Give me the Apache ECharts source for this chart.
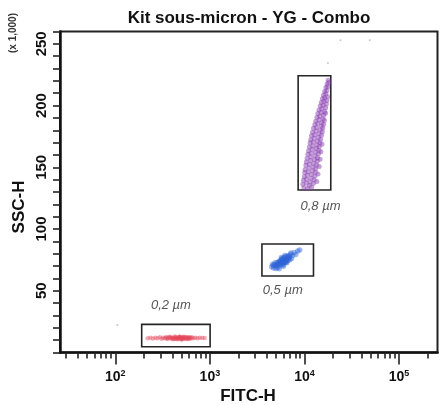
<!DOCTYPE html>
<html>
<head>
<meta charset="utf-8">
<script src="https://cdn.jsdelivr.net/npm/echarts@6/dist/echarts.min.js"></script>
<style>html,body{margin:0;padding:0;background:#fff}#c{width:440px;height:405px}</style>
</head>
<body>
<div id="c"></div>
<script>
// ---- data ----
const title = 'Kit sous-micron - YG - Combo';
const xName = 'FITC-H';
const yName = 'SSC-H';
const yUnit = '(x 1,000)';
const xRange = [26, 255000];
const yRange = [0, 260];
const xMajorTicks = [100, 1000, 10000, 100000];
const xMinorTicks = [30,40,50,60,70,80,90,200,300,400,500,600,700,800,900,2000,3000,4000,5000,6000,7000,8000,9000,20000,30000,40000,50000,60000,70000,80000,90000,200000];
const yTickStep = 10;
const yLabelStep = 50;
const gateLabels = ['0,2 µm', '0,5 µm', '0,8 µm'];
const gate02 = [[190, 4.7], [1005, 22.8]];
const gate05 = [[3550, 62.0], [12450, 87.9]];
const gate08 = [[8570, 131.6], [18970, 224.2]];

const pts02 = [
[220,11.6],[235,11.9],[250,11.3],[265,12.0],[280,11.6],[295,12.3],[310,11.1],[320,12.0],[335,11.5],[345,12.6],
[355,10.9],[365,11.9],[375,12.8],[385,11.3],[395,12.1],[405,10.7],[415,11.7],[425,12.9],[435,11.2],[445,12.2],
[455,10.8],[465,11.8],[475,12.6],[485,11.4],[495,12.0],[505,10.7],[515,11.9],[525,12.8],[540,11.3],[555,12.1],
[570,11.6],[585,12.5],[600,11.0],[620,11.9],[645,12.3],[670,11.5],[700,12.0],[740,11.6],[780,11.9],[830,11.7],[880,11.8],
[400,11.5],[430,12.4],[460,11.1],[490,11.6],[520,11.2],[550,12.6],[580,11.4],[610,12.2],[470,12.3],[440,11.6],
[510,12.4],[530,11.8],[560,10.9],[420,11.0],[380,12.2],[350,11.6],[590,11.7],[630,11.4],[480,12.9],[500,10.5]
];
const pts05 = [
[4500,69.5],[4700,68.5],[4800,71.0],[5000,70.0],[5100,72.5],[5200,68.8],[5300,71.5],[5400,74.0],[5500,70.2],[5600,72.8],
[5700,75.5],[5800,71.5],[5900,73.8],[6000,76.2],[6100,72.4],[6200,74.8],[6300,77.5],[6400,73.2],[6500,75.8],[6600,78.4],
[6700,74.6],[6900,77.0],[7100,79.5],[7300,76.2],[7500,78.6],[7800,81.0],[8100,79.4],[8500,82.2],[8900,83.0],[5500,73.5],
[5800,74.8],[6100,75.2],[6300,73.6],[5900,70.8],[6500,72.6],[5200,71.2],[4900,72.6],[6800,76.4],[7000,75.2],[5700,77.0],
[6200,78.6],[4600,71.4],[5400,67.8],[6000,69.8],[7200,80.6],[5600,74.2],[6000,73.0],[6400,75.0],[5300,73.0],[6700,77.8],
[5100,70.6],[5500,71.8],[5900,72.2],[6300,74.2],[6100,77.0],[5800,76.0],[6600,76.2],[7000,78.2],[5000,68.0],[4700,70.4]
];
const pts08 = [
[9850,133.4],[10750,132.8],[11900,133.9],
[9600,136.2],[10450,137.1],[11250,135.3],[12400,136.8],
[9750,139.6],[10550,140.3],[11450,138.2],[12650,139.9],[13500,138.6],
[9950,142.4],[10700,143.5],[11750,141.2],[12900,142.9],
[10050,145.7],[10950,146.3],[11850,144.1],[13050,145.9],[13900,144.6],
[10150,148.3],[11150,149.4],[12150,147.2],[13150,148.8],
[10350,151.6],[11250,152.5],[12350,150.2],[13450,151.9],[14300,150.7],
[10450,154.4],[11550,155.6],[12450,153.1],[13650,154.9],
[10650,157.3],[11650,158.4],[12750,156.2],[13750,157.8],[14600,156.5],
[10850,160.6],[11750,161.3],[12950,159.1],[14050,160.9],
[11050,163.4],[12050,164.6],[13050,162.2],[14150,163.8],[14900,162.7],
[11250,166.5],[12250,167.3],[13350,165.2],[14350,166.9],
[11450,169.6],[12350,170.4],[13550,168.1],[14550,169.8],[15300,168.6],
[11650,172.4],[12650,173.5],[13650,171.2],[14850,172.7],
[11850,175.6],[12850,176.3],[14050,174.2],[15150,175.9],
[12150,178.3],[13250,179.5],[14250,177.1],[15450,178.8],
[12450,181.6],[13450,182.2],[14650,180.3],[15650,181.9],
[12850,184.4],[13850,185.5],[15050,183.2],[15950,184.8],
[13150,187.3],[14250,188.6],[15250,186.1],[16250,187.9],
[13550,190.5],[14550,191.4],[15750,189.2],
[13850,193.6],[14950,194.3],[15950,192.1],[16700,193.8],
[14250,196.4],[15250,197.5],[16350,195.2],
[14650,199.6],[15750,200.3],[16750,198.2],
[15050,202.4],[16050,203.5],[17050,201.2],
[15450,205.6],[16350,206.3],[17250,204.1],
[15850,208.4],[16850,209.6],[17550,207.2],
[16350,211.5],[17250,212.3],
[16850,214.6],[17650,215.2],
[17350,217.4],[18050,218.6],
[17800,220.5]
];
const ptsStray = [[105,22.3],[17700,234.5],[24000,253],[49000,253]];

// ---- chart ----
const FONT = "'Liberation Sans Narrow', 'Liberation Sans', Arial, sans-serif";
const chart = echarts.init(document.getElementById('c'), null, {renderer: 'canvas'});
const grid = {left: 60, right: 2.5, top: 31.5, bottom: 52.5};

function gate(box, label, pos, offset) {
  return {
    silent: true,
    itemStyle: {color: 'rgba(0,0,0,0)', borderColor: '#262626', borderWidth: 1.6},
    label: {show: true, position: pos, offset: offset, formatter: label,
      fontFamily: FONT, fontStyle: 'italic', fontSize: 13, color: '#555'},
    data: [[{coord: box[0]}, {coord: box[1]}]]
  };
}

chart.setOption({
  animation: false,
  graphic: [
    {type: 'text', x: 249, y: 18, style: {text: title, textAlign: 'center', textVerticalAlign: 'middle',
      font: 'bold 17px ' + FONT, fill: '#111'}},
    {type: 'text', x: 248, y: 396, style: {text: xName, textAlign: 'center', textVerticalAlign: 'middle',
      font: 'bold 17px ' + FONT, fill: '#111'}},
    {type: 'text', x: 19, y: 207, rotation: Math.PI / 2, style: {text: yName, textAlign: 'center', textVerticalAlign: 'middle',
      font: 'bold 17px ' + FONT, fill: '#111'}},
    {type: 'text', x: 13, y: 33, rotation: Math.PI / 2, style: {text: yUnit, textAlign: 'center', textVerticalAlign: 'middle',
      font: 'bold 10px ' + FONT, fill: '#333'}}
  ],
  grid: [Object.assign({show: true, borderColor: '#222', borderWidth: 2, backgroundColor: '#fff'}, grid), Object.assign({}, grid)],
  xAxis: [{
    type: 'log', logBase: 10, gridIndex: 0, min: xRange[0], max: xRange[1],
    axisLine: {show: true, onZero: false, lineStyle: {color: '#111', width: 2.5}},
    axisTick: {show: true, customValues: xMajorTicks, length: 12, lineStyle: {color: '#222', width: 1.6}},
    axisLabel: {show: true, customValues: xMajorTicks, margin: 17,
      formatter: v => '{b|10}{s|' + Math.round(Math.log10(v)) + '}',
      rich: {b: {fontFamily: FONT, fontWeight: 'bold', fontSize: 14, color: '#111'},
             s: {fontFamily: FONT, fontWeight: 'bold', fontSize: 9, color: '#111', padding: [0, 0, 7, 0]}}},
    splitLine: {show: false}
  }, {
    type: 'log', logBase: 10, gridIndex: 1, min: xRange[0], max: xRange[1],
    axisLine: {show: false},
    axisTick: {show: true, customValues: xMinorTicks, length: 6, lineStyle: {color: '#222', width: 1.6}},
    axisLabel: {show: false},
    splitLine: {show: false}
  }],
  yAxis: [{
    type: 'value', gridIndex: 0, min: yRange[0], max: yRange[1], interval: yTickStep,
    axisLine: {show: true, onZero: false, lineStyle: {color: '#111', width: 2.5}},
    axisTick: {show: true, length: 7, lineStyle: {color: '#222', width: 1.6}},
    axisLabel: {show: true, rotate: 90, margin: 11, fontFamily: FONT, fontWeight: 'bold', fontSize: 15, color: '#111',
      formatter: v => (v > 0 && v % yLabelStep === 0 && v < yRange[1]) ? String(v) : ''},
    splitLine: {show: false}
  }, {
    type: 'value', gridIndex: 1, min: yRange[0], max: yRange[1], show: false
  }],
  series: [
    {type: 'scatter', name: '0,2', data: pts02, symbolSize: 4.5, itemStyle: {color: '#e4475b', opacity: 0.45},
      markArea: gate(gate02, gateLabels[0], 'top', [-5, -7])},
    {type: 'scatter', name: '0,5', data: pts05, symbolSize: 5.5, itemStyle: {color: '#2f63d6', opacity: 0.45},
      markArea: gate(gate05, gateLabels[1], 'bottom', [-5, 2.5])},
    {type: 'scatter', name: '0,8', data: pts08, symbolSize: 5, itemStyle: {color: '#8a40b2', opacity: 0.5},
      markArea: gate(gate08, gateLabels[2], 'bottom', [6, 4])},
    {type: 'scatter', name: 'stray', data: ptsStray, symbolSize: 2, itemStyle: {color: '#bbb'}}
  ]
});
</script>
</body>
</html>
